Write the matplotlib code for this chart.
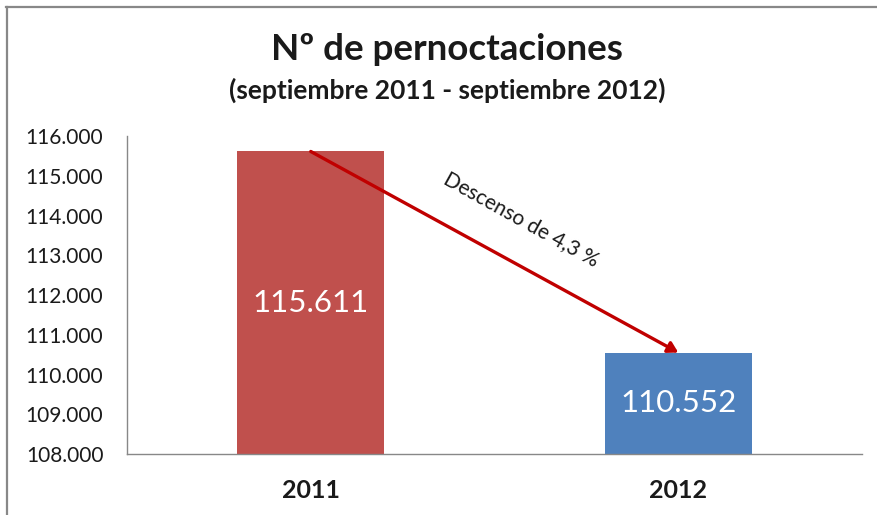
import matplotlib.pyplot as plt
from matplotlib.lines import Line2D
from matplotlib.ticker import FuncFormatter

# datos
anios = ["2011", "2012"]
pernoctaciones = [115611, 110552]
colores = ["#C0504D", "#4F81BD"]
texto_flecha = "Descenso de 4,3 %"

plt.rcParams['font.family'] = ['Lato', 'DejaVu Sans']


def miles(v, pos=None):
    return f"{int(v):,}".replace(",", ".")


fig = plt.figure(figsize=(8.77, 5.15), dpi=100)
ax = fig.add_axes([0.1448, 0.1184, 0.8382, 0.6175])

x = range(len(anios))
ax.bar(x, pernoctaciones, width=0.40, color=colores, zorder=2)
ax.set_xlim(-0.5, 1.5)
ax.set_ylim(108000, 116000)
ax.set_yticks(range(108000, 116001, 1000))
ax.yaxis.set_major_formatter(FuncFormatter(miles))
ax.set_xticks(list(x))
ax.set_xticklabels(anios)
ax.tick_params(axis="both", length=0, labelcolor="#1a1a1a")
ax.tick_params(axis="y", labelsize=15, pad=17)
ax.tick_params(axis="x", labelsize=18, pad=18)
for t in ax.get_xticklabels():
    t.set_fontweight("bold")

for s in ["top", "right"]:
    ax.spines[s].set_visible(False)
for s in ["left", "bottom"]:
    ax.spines[s].set_color("#888888")
    ax.spines[s].set_linewidth(1.0)

# etiquetas dentro de las barras
for i, v in enumerate(pernoctaciones):
    ax.text(i, (108000 + v) / 2, miles(v), ha="center", va="center",
            color="white", fontsize=22.5, zorder=3)

# flecha de descenso
ax.annotate("", xy=(1, pernoctaciones[1]), xytext=(0, pernoctaciones[0]),
            arrowprops=dict(arrowstyle="-|>,head_length=0.6,head_width=0.35",
                            color="#C00000", lw=2.4, shrinkA=0, shrinkB=0),
            zorder=4)
ax.text(0.572, 113890, texto_flecha, rotation=-29, rotation_mode="anchor",
        ha="center", va="center", fontsize=15, color="#1a1a1a")

# titulo
fig.text(0.51, 0.903, "Nº de pernoctaciones", ha="center", va="center",
         fontsize=26.5, fontweight="bold", color="#1a1a1a")
fig.text(0.51, 0.825, "(septiembre 2011 - septiembre 2012)", ha="center",
         va="center", fontsize=19, fontweight="bold", color="#1a1a1a")

# marco del grafico (recortado)
fig.add_artist(Line2D([0.007, 1.0], [0.987, 0.987], color="#888888", lw=1.6))
fig.add_artist(Line2D([0.008, 0.008], [0.0, 0.987], color="#888888", lw=1.6))

fig.savefig("out.png", dpi=100)
